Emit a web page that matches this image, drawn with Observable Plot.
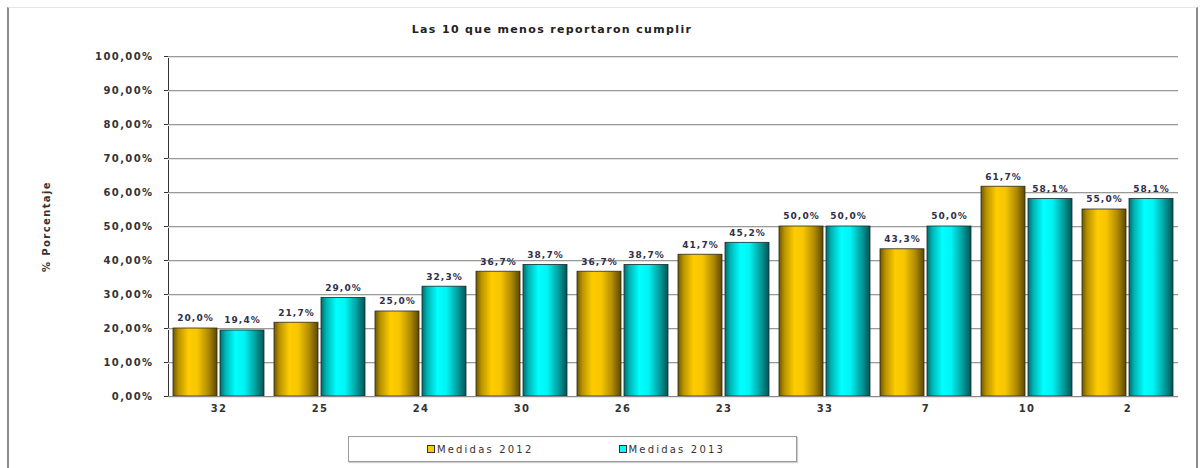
<!DOCTYPE html>
<html><head><meta charset="utf-8">
<script src="https://cdn.jsdelivr.net/npm/d3@7"></script>
<script src="https://cdn.jsdelivr.net/npm/@observablehq/plot@0.6"></script>
<style>
html,body{margin:0;padding:0;background:#fff;}
#wrap{position:relative;width:1201px;height:468px;overflow:hidden;background:#fff;font-family:"DejaVu Sans",sans-serif;}
#frame{position:absolute;left:7px;top:7px;width:1187px;height:470px;border-left:2px solid #8c8c8c;border-right:2px solid #8c8c8c;border-top:1px solid #e6e6e6;}
#title{position:absolute;left:0;width:1104px;top:23px;text-align:center;font-weight:bold;font-size:11px;letter-spacing:1.35px;color:#222;}
#chart{position:absolute;left:0;top:40px;}
#chart svg{letter-spacing:1.4px;}
#chart svg g[aria-label="text"]{letter-spacing:1.1px;}
#legend{position:absolute;left:348px;top:436px;width:440px;padding-left:7px;height:24px;border:1px solid #9a9a9a;box-shadow:1px 1px 1px #d0d0d0;display:flex;align-items:center;justify-content:center;gap:85px;font-size:10px;letter-spacing:2.2px;color:#333;}
#legend .item{display:flex;align-items:center;}
#legend .sw{width:6px;height:6px;border:1px solid #333;margin-right:2px;}
</style>
</head><body>
<div id="wrap">
  <div id="frame"></div>
  <div id="title"></div>
  <div id="chart"></div>
  <div id="legend"></div>
</div>
<script>
const titleText = "Las 10 que menos reportaron cumplir";
const yLabel = "% Porcentaje";
const categories = ["32","25","24","30","26","23","33","7","10","2"];
const seriesNames = ["Medidas 2012","Medidas 2013"];
const values2012 = [20.0,21.7,25.0,36.7,36.7,41.7,50.0,43.3,61.7,55.0];
const values2013 = [19.4,29.0,32.3,38.7,38.7,45.2,50.0,50.0,58.1,58.1];
const yTicks = [0,10,20,30,40,50,60,70,80,90,100];
const seriesColors = ["#ffcc00","#00ffff"];

const rows = categories.flatMap((c,i) => [
  {cat:c, series:seriesNames[0], value:values2012[i]},
  {cat:c, series:seriesNames[1], value:values2013[i]}
]);
const fmtTick = d => d.toFixed(2).replace(".", ",") + "%";
const fmtVal = d => d.toFixed(1).replace(".", ",") + "%";

document.getElementById("title").textContent = titleText;

const svg = Plot.plot({
  width: 1201,
  height: 382,
  marginLeft: 168,
  marginRight: 23,
  marginTop: 16,
  marginBottom: 26,
  style: {fontFamily: "DejaVu Sans, sans-serif", fontSize: "10px", fontWeight: "bold", color: "#333", background: "transparent"},
  facet: {data: rows, x: "cat"},
  fx: {domain: categories, padding: 0, label: null, tickSize: 0, tickPadding: 8, axis: "bottom"},
  x: {domain: seriesNames, paddingInner: 0.06, paddingOuter: 0.1, axis: null},
  y: {domain: [0,100], ticks: yTicks, tickFormat: fmtTick, tickSize: 4, tickPadding: 11, line: true, label: yLabel, labelArrow: false, labelAnchor: "center", labelOffset: 126},
  marks: [
    Plot.ruleY(yTicks, {stroke: "#e2e2e2", dy: 1}),
    Plot.ruleY(yTicks, {stroke: "#9a9a9a"}),
    Plot.barY(rows, {filter: d => d.series === seriesNames[0], x: "series", y: "value", fill: "url(#grad2012)", stroke: "#2b2b1a", strokeWidth: 0.8}),
    Plot.barY(rows, {filter: d => d.series === seriesNames[1], x: "series", y: "value", fill: "url(#grad2013)", stroke: "#1a2b2b", strokeWidth: 0.8}),
    Plot.text(rows, {x: "series", y: "value", text: d => fmtVal(d.value), dy: -10, fontSize: 9, fontWeight: "bold", fill: "#30304a"}),
    Plot.ruleY([0], {stroke: "#8a8a8a"})
  ]
});

const NS = "http://www.w3.org/2000/svg";
const defs = document.createElementNS(NS, "defs");
function grad(id, stops){
  const g = document.createElementNS(NS, "linearGradient");
  g.setAttribute("id", id);
  g.setAttribute("x1","0"); g.setAttribute("x2","1"); g.setAttribute("y1","0"); g.setAttribute("y2","0");
  stops.forEach(([o,c]) => {
    const s = document.createElementNS(NS, "stop");
    s.setAttribute("offset", o); s.setAttribute("stop-color", c);
    g.appendChild(s);
  });
  defs.appendChild(g);
}
grad("grad2012", [[0,"#6e5600"],[0.12,"#b89200"],[0.35,"#ffcc00"],[0.55,"#f7c600"],[0.8,"#b08c00"],[1,"#5c4700"]]);
grad("grad2013", [[0,"#006c6c"],[0.12,"#00b4b4"],[0.35,"#00ffff"],[0.55,"#00f4f4"],[0.8,"#00a0a0"],[1,"#005454"]]);
svg.insertBefore(defs, svg.firstChild);
document.getElementById("chart").appendChild(svg);

const legend = document.getElementById("legend");
seriesNames.forEach((name,i) => {
  const it = document.createElement("div"); it.className = "item";
  const sw = document.createElement("div"); sw.className = "sw"; sw.style.background = seriesColors[i];
  const tx = document.createElement("span"); tx.textContent = name;
  it.appendChild(sw); it.appendChild(tx); legend.appendChild(it);
});
</script>
</body></html>
